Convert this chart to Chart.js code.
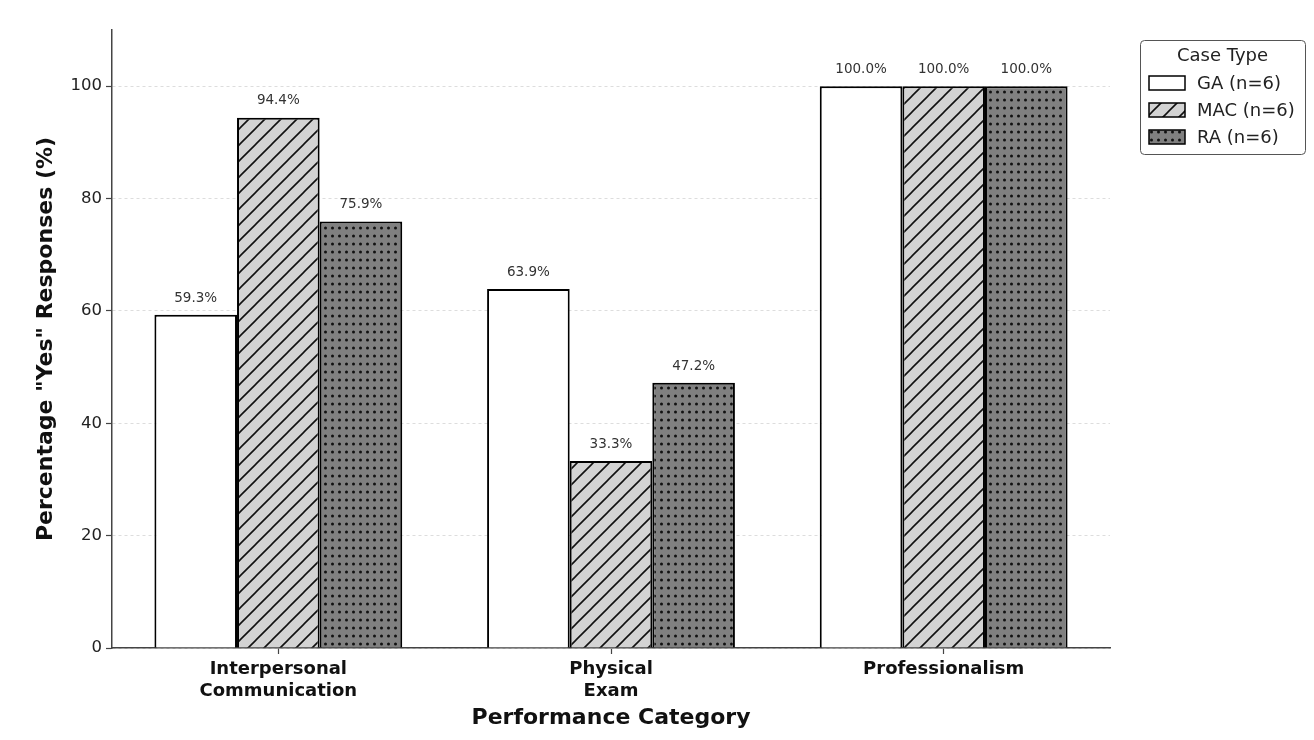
<!DOCTYPE html>
<html lang="en">
<head>
  <meta charset="UTF-8">
  <title>Percentage Yes Responses by Performance Category</title>
  <script src="https://cdn.jsdelivr.net/npm/chart.js"></script>
  <style>
    body { margin: 0; background: #fff; }
    #wrap { width: 1314px; height: 740px; }
  </style>
</head>
<body>
  <div id="wrap"><canvas id="perfChart" width="1314" height="740"></canvas></div>

  <script>
    // data
    const categories = [['Interpersonal', 'Communication'], ['Physical', 'Exam'], 'Professionalism'];
    const seriesNames = ['GA (n=6)', 'MAC (n=6)', 'RA (n=6)'];
    const gaValues = [59.3, 63.9, 100.0];
    const macValues = [94.4, 33.3, 100.0];
    const raValues = [75.9, 47.2, 100.0];
    const yTicks = [0, 20, 40, 60, 80, 100];

    const FONT = "'DejaVu Sans', sans-serif";

    function hatchPattern() {
      const s = 16;
      const c = document.createElement('canvas');
      c.width = s; c.height = s;
      const g = c.getContext('2d');
      g.fillStyle = '#d3d3d3';
      g.fillRect(0, 0, s, s);
      g.strokeStyle = '#111';
      g.lineWidth = 1.6;
      g.beginPath();
      g.moveTo(0, s); g.lineTo(s, 0);
      g.moveTo(-2, 2); g.lineTo(2, -2);
      g.moveTo(s - 2, s + 2); g.lineTo(s + 2, s - 2);
      g.stroke();
      return g.createPattern(c, 'repeat');
    }

    function dotPattern() {
      const w = 7, h = 8;
      const c = document.createElement('canvas');
      c.width = w; c.height = h;
      const g = c.getContext('2d');
      g.fillStyle = '#808080';
      g.fillRect(0, 0, w, h);
      g.fillStyle = '#111';
      g.beginPath();
      g.arc(3.5, 4, 1.5, 0, Math.PI * 2);
      g.fill();
      return g.createPattern(c, 'repeat');
    }

    // numbers above the bars
    const valueLabels = {
      id: 'valueLabels',
      afterDatasetsDraw(chart) {
        const ctx = chart.ctx;
        ctx.save();
        ctx.font = '13.5px ' + FONT;
        ctx.fillStyle = '#333';
        ctx.textAlign = 'center';
        ctx.textBaseline = 'bottom';
        chart.data.datasets.forEach((ds, i) => {
          chart.getDatasetMeta(i).data.forEach((bar, j) => {
            ctx.fillText(ds.data[j].toFixed(1) + '%', bar.x, bar.y - 10);
          });
        });
        ctx.restore();
      }
    };

    // boxed legend to the right of the plot
    const boxLegend = {
      id: 'boxLegend',
      afterDraw(chart) {
        const ctx = chart.ctx;
        const x = chart.chartArea.right + 30, y = 40, w = 165, h = 114;
        ctx.save();
        ctx.fillStyle = 'rgba(255,255,255,0.9)';
        ctx.strokeStyle = '#555';
        ctx.lineWidth = 1;
        ctx.beginPath();
        ctx.roundRect(x + 0.5, y + 0.5, w, h, 4);
        ctx.fill();
        ctx.stroke();
        ctx.fillStyle = '#222';
        ctx.font = '18px ' + FONT;
        ctx.textAlign = 'center';
        ctx.textBaseline = 'middle';
        ctx.fillText('Case Type', x + w / 2, y + 16);
        ctx.textAlign = 'left';
        chart.data.datasets.forEach((ds, i) => {
          const cy = y + 43 + i * 27;
          ctx.fillStyle = ds.backgroundColor;
          ctx.fillRect(x + 9, cy - 7, 36, 14);
          ctx.strokeStyle = '#000';
          ctx.lineWidth = 1.5;
          ctx.strokeRect(x + 9, cy - 7, 36, 14);
          ctx.fillStyle = '#222';
          ctx.fillText(ds.label, x + 57, cy + 1);
        });
        ctx.restore();
      }
    };

    const ctx = document.getElementById('perfChart').getContext('2d');
    const fills = ['#ffffff', hatchPattern(), dotPattern()];
    const values = [gaValues, macValues, raValues];

    new Chart(ctx, {
      type: 'bar',
      data: {
        labels: categories,
        datasets: seriesNames.map((name, i) => ({
          label: name,
          data: values[i],
          backgroundColor: fills[i],
          borderColor: '#000',
          borderWidth: 2,
          categoryPercentage: 0.745,
          barPercentage: 1.0
        }))
      },
      options: {
        responsive: false,
        animation: false,
        layout: { padding: { left: 0, right: 204, top: 30, bottom: 0 } },
        plugins: {
          legend: { display: false },
          tooltip: { enabled: false }
        },
        scales: {
          x: {
            grid: { display: true, offset: false, drawOnChartArea: false, drawTicks: true, tickLength: 6, tickColor: '#444', tickWidth: 1.2 },
            border: { color: '#444', width: 1.5 },
            ticks: { color: '#111', font: { family: FONT, size: 18, weight: 'bold', lineHeight: 1.2 }, padding: 5, maxRotation: 0 },
            title: { display: true, text: 'Performance Category', color: '#111', font: { family: FONT, size: 22, weight: 'bold' }, padding: { top: 4, bottom: 9 } },
            afterFit(scale) { scale.height = 92; }
          },
          y: {
            min: 0,
            max: 110,
            afterBuildTicks(axis) { axis.ticks = yTicks.map(v => ({ value: v })); },
            grid: { color: '#dddddd', lineWidth: 1, tickLength: 6, tickColor: '#444', tickWidth: 1.2 },
            border: { color: '#444', width: 1.5, dash: [3, 3] },
            ticks: { color: '#222', font: { family: FONT, size: 16.5 }, padding: 4 },
            title: { display: true, text: 'Percentage "Yes" Responses (%)', color: '#111', font: { family: FONT, size: 22, weight: 'bold' }, padding: { top: 33, bottom: 8 } },
            afterFit(scale) { scale.width = 112; }
          }
        }
      },
      plugins: [valueLabels, boxLegend]
    });
  </script>
</body>
</html>
